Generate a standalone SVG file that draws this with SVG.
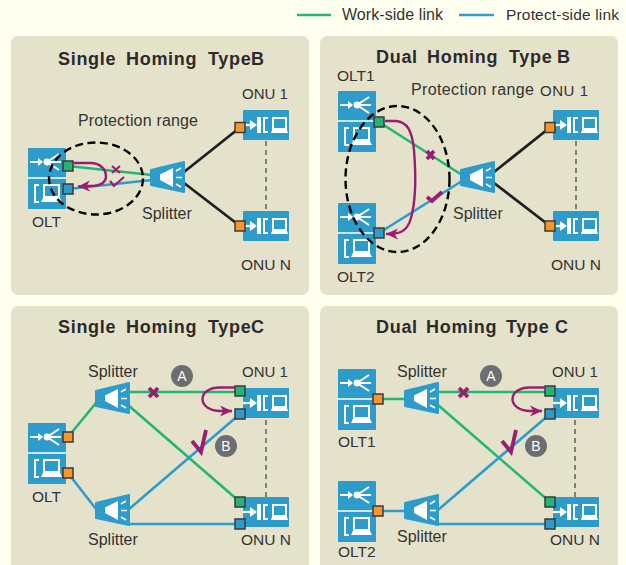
<svg xmlns="http://www.w3.org/2000/svg" width="626" height="565" viewBox="0 0 626 565">
<style>
text{font-family:"Liberation Sans",Arial,sans-serif;font-size:15.5px;fill:#333}
.s{font-size:16px}
.o{font-size:15px}
.t{font-size:18px;font-weight:700;fill:#2b2b2b;letter-spacing:.7px}
.p{fill:#e5e2cc}
.l{fill:none;stroke-width:2.6}
.g{stroke:#22b573}.b{stroke:#2e9ccb}.k{stroke:#231f20;stroke-width:2.8}
.d{fill:none;stroke:#555;stroke-width:1.4;stroke-dasharray:5 4}
.e{fill:none;stroke:#000;stroke-width:2.4;stroke-dasharray:8 4.5}
.a{fill:none;stroke:#9b1d6e;stroke-width:2.4}
.m{fill:none;stroke:#9b1d6e;stroke-width:2.2}
.x{fill:none;stroke:#9b1d6e;stroke-width:3.8}
.pt{stroke:#3a3a3a;stroke-width:1.5}
.c{fill:#6d6e71}.ct{fill:#fff;font-size:14px;text-anchor:middle}
.wf{fill:#fff}.ws{fill:none;stroke:#fff}
</style>
<defs>
<marker id="ah" markerUnits="userSpaceOnUse" markerWidth="14" markerHeight="12" refX="12" refY="6" orient="auto"><path d="M0 0.500L12 6L0 11.500L3.500 6Z" fill="#9b1d6e"/></marker>
<g id="olt"><rect width="38" height="61" rx="1" fill="#2e9ccb"/>
<path class="ws" stroke-width="1.6" d="M-1 30H38"/>
<path class="ws" stroke-width="2" d="M2 14H12M19 14L31 6M19 14H33M19 14L31 22"/>
<path class="wf" d="M10 10L15 14L10 18Z"/><circle class="wf" cx="19" cy="14" r="3.400"/>
<path class="ws" stroke-width="2" d="M11 37H7V54H11"/>
<rect class="ws" stroke-width="2" x="16" y="37" width="15" height="12"/>
<path class="wf" d="M15 50H32L34 54H13Z"/></g>
<g id="onu"><rect width="46" height="30" rx="1" fill="#2e9ccb"/>
<path class="ws" stroke-width="2.200" d="M0 15H9"/><path class="wf" d="M7 10L14 15L7 20Z"/>
<rect class="wf" x="14" y="7" width="4" height="16"/>
<path class="ws" stroke-width="2" d="M25 8H21V22H25"/>
<rect class="ws" stroke-width="2" x="30" y="8" width="13" height="11"/>
<path class="wf" d="M29 20H44L45 23H28Z"/></g>
<g id="spl"><path d="M1 9L34 1V31L1 24Z" fill="#2e9ccb" stroke="#2e9ccb" stroke-width="2" stroke-linejoin="round"/>
<path class="wf" d="M10 13.500L23 7V26L10 19Z"/>
<path class="ws" stroke-width="1.500" d="M26 10L31 7M26 16.500H32M26 23L31 26"/></g>
<rect id="pg" class="pt" x="-5" y="-5" width="10" height="10" fill="#22b573"/>
<rect id="pb" class="pt" x="-5" y="-5" width="10" height="10" fill="#2e9ccb"/>
<rect id="po" class="pt" x="-5" y="-5" width="10" height="10" fill="#f7962b"/>
</defs>
<rect width="626" height="565" fill="#fffff0"/>
<g id="panels">
<rect class="p" x="11" y="36" width="298" height="259" rx="7"/>
<rect class="p" x="320" y="36" width="298" height="259" rx="7"/>
<rect class="p" x="11" y="306" width="298" height="275" rx="7"/>
<rect class="p" x="320" y="306" width="298" height="275" rx="7"/>
</g>
<g id="legend">
<path class="l g" d="M297 15H331"/><text class="s" x="342" y="20" textLength="101">Work-side link</text>
<path class="l b" d="M459 15H494"/><text x="506" y="20" textLength="113">Protect-side link</text>
</g>
<g id="titles">
<text class="t" x="58" y="65">Single <tspan x="126">Homing</tspan> <tspan x="208">Type</tspan> <tspan x="251">B</tspan></text>
<text class="t" x="376" y="63">Dual <tspan x="427">Homing</tspan> <tspan x="509">Type</tspan> <tspan x="557">B</tspan></text>
<text class="t" x="58" y="333">Single <tspan x="126">Homing</tspan> <tspan x="208">Type</tspan> <tspan x="251">C</tspan></text>
<text class="t" x="376" y="333">Dual <tspan x="426">Homing</tspan> <tspan x="506">Type</tspan> <tspan x="555">C</tspan></text>
</g>
<g id="connectors">
<path class="l g" d="M68 166L152 175"/><path class="l b" d="M68 189L152 180"/>
<path class="l k" d="M184 172L240 127.500M184 183L240 226"/>
<path class="d" d="M266 141V211"/>
<path class="l g" d="M379 122L462 175"/><path class="l b" d="M379 233L462 181"/>
<path class="l k" d="M494 172L550 127.500M494 183L550 226"/>
<path class="d" d="M576 141V211"/>
<path class="l g" d="M68 437L96 403M128 392H240M128 405L240 502"/>
<path class="l b" d="M68 473L96 509M128 510L240 414M128 524H240"/>
<path class="d" d="M266 420V497"/>
<path class="l g" d="M378 399H406M438 392H550M438 405L550 502"/>
<path class="l b" d="M378 511H406M438 510L550 414M438 524H550"/>
<path class="d" d="M575 420V497"/>
</g>
<g id="p1-olt"><use href="#olt" x="28" y="148"/><text x="32" y="227">OLT</text></g>
<g id="p1-splitter"><use href="#spl" x="150" y="161"/><text class="s" x="142" y="219">Splitter</text></g>
<g id="p1-onu1"><use href="#onu" x="243" y="110"/><text class="o" x="242" y="99">ONU 1</text></g>
<g id="p1-onun"><use href="#onu" x="243" y="211"/><text x="241" y="270">ONU N</text></g>
<g id="p2-olt1"><use href="#olt" x="338" y="91"/><text x="337" y="81">OLT1</text></g>
<g id="p2-olt2"><use href="#olt" x="338" y="203"/><text x="337" y="282">OLT2</text></g>
<g id="p2-splitter"><use href="#spl" x="460" y="161"/><text class="s" x="453" y="219">Splitter</text></g>
<g id="p2-onu1"><use href="#onu" x="553" y="110"/><text class="o" x="540" y="96" textLength="48">ONU 1</text></g>
<g id="p2-onun"><use href="#onu" x="553" y="211"/><text x="551" y="270">ONU N</text></g>
<g id="p3-olt"><use href="#olt" x="28" y="423"/><text x="32" y="502">OLT</text></g>
<g id="p3-splitter1"><use href="#spl" x="95" y="382"/><text class="s" x="88" y="377">Splitter</text></g>
<g id="p3-splitter2"><use href="#spl" x="95" y="494"/><text class="s" x="88" y="545">Splitter</text></g>
<g id="p3-onu1"><use href="#onu" x="243" y="388"/><text class="o" x="242" y="377">ONU 1</text></g>
<g id="p3-onun"><use href="#onu" x="243" y="497"/><text x="241" y="545">ONU N</text></g>
<g id="p4-olt1"><use href="#olt" x="338" y="369"/><text x="338" y="447">OLT1</text></g>
<g id="p4-olt2"><use href="#olt" x="338" y="481"/><text x="338" y="557">OLT2</text></g>
<g id="p4-splitter1"><use href="#spl" x="404" y="382"/><text class="s" x="397" y="377">Splitter</text></g>
<g id="p4-splitter2"><use href="#spl" x="404" y="494"/><text class="s" x="397" y="542">Splitter</text></g>
<g id="p4-onu1"><use href="#onu" x="553" y="388"/><text class="o" x="552" y="377">ONU 1</text></g>
<g id="p4-onun"><use href="#onu" x="553" y="497"/><text x="550" y="545">ONU N</text></g>
<g id="protection-ranges">
<ellipse class="e" cx="96" cy="178.500" rx="47" ry="36"/>
<ellipse class="e" cx="397.500" cy="179" rx="52" ry="73"/>
<text class="s" x="78" y="126" textLength="120">Protection range</text>
<text class="s" x="411" y="95" textLength="123">Protection range</text>
</g>
<g id="ports">
<use href="#pg" x="68" y="166"/><use href="#pb" x="68" y="189"/><use href="#po" x="240" y="127.500"/><use href="#po" x="240" y="226"/>
<use href="#pg" x="379" y="122"/><use href="#pb" x="379" y="233"/><use href="#po" x="550" y="127.500"/><use href="#po" x="550" y="226"/>
<use href="#po" x="68" y="437"/><use href="#po" x="68" y="473"/><use href="#pg" x="240" y="391"/><use href="#pb" x="240" y="414"/><use href="#pg" x="240" y="502"/><use href="#pb" x="240" y="524"/>
<use href="#po" x="378" y="399"/><use href="#po" x="378" y="511"/><use href="#pg" x="550" y="391"/><use href="#pb" x="550" y="414"/><use href="#pg" x="550" y="502"/><use href="#pb" x="550" y="524"/>
</g>
<g id="switchover">
<path class="a" marker-end="url(#ah)" d="M74 163H90C102 163 106 171 106 176C106 184 98 186 90 186L78 186.500"/>
<path class="m" d="M112 166L120 173M120 166L112 173M110 181L114 186L124 177"/>
<path class="a" marker-end="url(#ah)" d="M385 121H396C407 122 412 130 414 150C416 175 416 200 411 218C407 232 400 234 386 234"/>
<path class="x" stroke-width="2.400" d="M427 151L434 159M434 151L427 159"/>
<path class="x" stroke-width="2.400" d="M427 197L432 201L442 192"/>
<path class="a" marker-end="url(#ah)" d="M236 387.500H222C196 386 196 412 222 411H232"/>
<path class="x" d="M149 388L158 397M158 388L149 397"/>
<path class="x" d="M192 441L201 452L206 430"/>
<path class="a" marker-end="url(#ah)" d="M546 387.500H532C506 386 506 412 532 411H542"/>
<path class="x" d="M459 388L468 397M468 388L459 397"/>
<path class="x" d="M502 441L511 452L516 430"/>
</g>
<g id="badges">
<circle class="c" cx="182" cy="376" r="11"/><text class="ct" x="182" y="381">A</text>
<circle class="c" cx="226" cy="446" r="11"/><text class="ct" x="226" y="451">B</text>
<circle class="c" cx="491" cy="376" r="11"/><text class="ct" x="491" y="381">A</text>
<circle class="c" cx="536" cy="446" r="11"/><text class="ct" x="536" y="451">B</text>
</g>
</svg>
